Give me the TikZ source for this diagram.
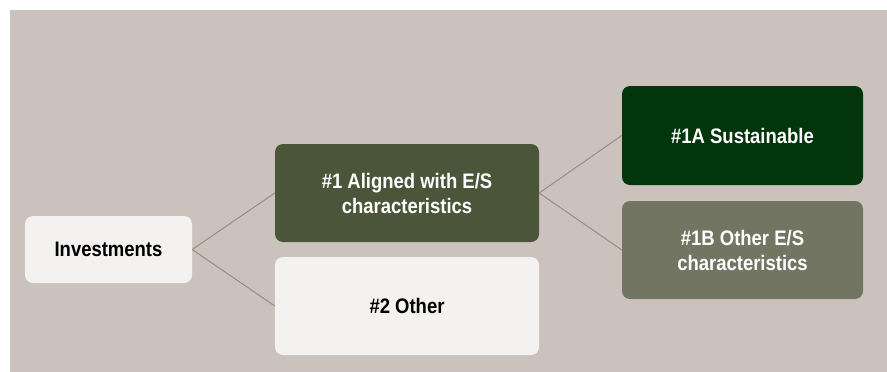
\documentclass[tikz,border=0pt]{standalone}
\usepackage{fontspec}
\newfontfamily\condfont[FakeStretch=0.88]{Liberation Sans}
\usepackage{tikz}
\usetikzlibrary{positioning, calc}
\definecolor{bgbeige}{HTML}{CCC2BD}
\definecolor{boxlight}{HTML}{F3F2F0}
\definecolor{olivedark}{HTML}{4A553A}
\definecolor{forestgreen}{HTML}{02350A}
\definecolor{olivegray}{HTML}{727562}
\definecolor{linkgray}{HTML}{9A8C80}
\tikzset{
	basenode/.style={
			rectangle,
			rounded corners=8pt,
			draw=none,
			align=center,
			inner sep=0pt,
			font=\condfont\bfseries\fontsize{21}{25}\selectfont
		},
	lightnode/.style={
			basenode,
			fill=boxlight,
			text=black
		},
	alignednode/.style={
			basenode,
			fill=olivedark,
			text=white
		},
	sustnode/.style={
			basenode,
			fill=forestgreen,
			text=white
		},
	othernode/.style={
			basenode,
			fill=olivegray,
			text=white
		}
}
\tikzset{
	linkline/.style={draw=linkgray, line width=1pt}
}

\begin{document}
\begin{tikzpicture}[x=1pt, y=-1pt]
\useasboundingbox (0,0) rectangle (887,372);
\fill[white] (0,0) rectangle (887,372);
\fill[bgbeige] (10,10) rectangle (887,372);

\node[lightnode, minimum width=167pt, minimum height=67pt] (inv) at (108.5,249.5) {Investments};
\node[alignednode, minimum width=264pt, minimum height=98pt] (al) at (407,193) {\#1 Aligned with E/S\\characteristics};
\node[lightnode, minimum width=264pt, minimum height=98pt] (oth) at (407,306) {\#2 Other};
\node[sustnode, minimum width=241pt, minimum height=99pt] (sus) at (742.5,135.5) {\#1A Sustainable};
\node[othernode, minimum width=241pt, minimum height=98pt] (es) at (742.5,250) {\#1B Other E/S\\characteristics};

\draw[linkline] (inv.east) -- (al.west);
\draw[linkline] (inv.east) -- (oth.west);

\draw[linkline] (al.east) -- (sus.west);
\draw[linkline] (al.east) -- (es.west);
\end{tikzpicture}
\end{document}
